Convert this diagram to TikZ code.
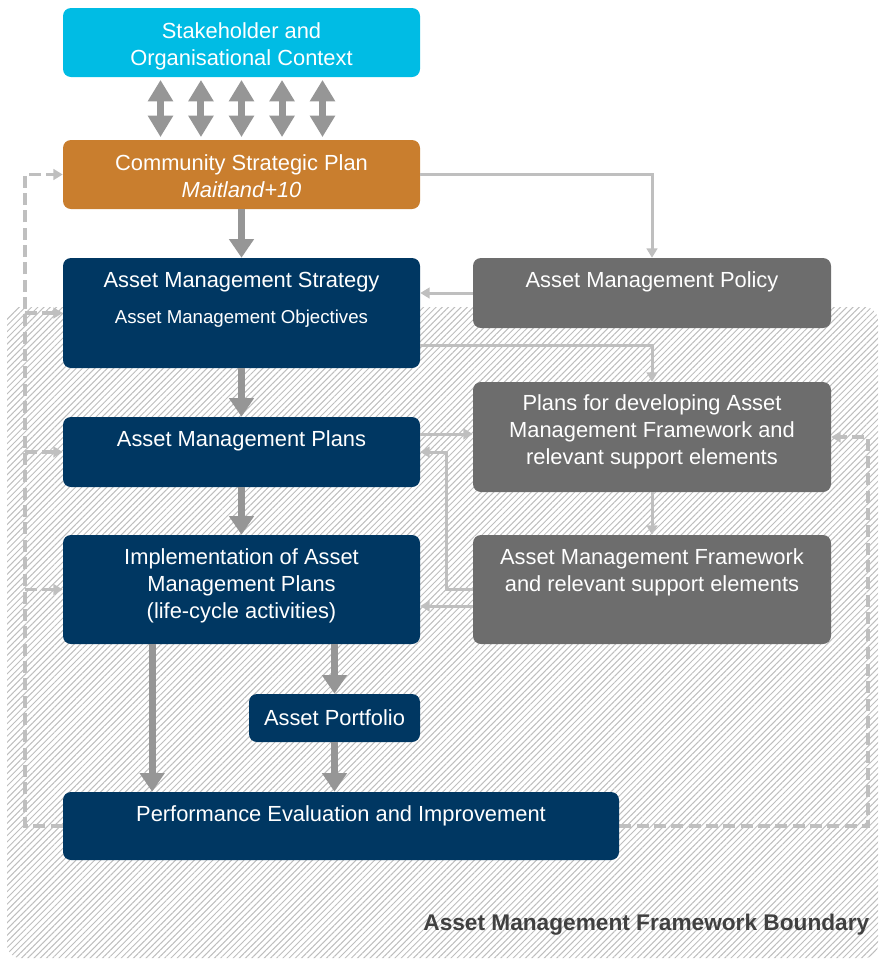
\documentclass[tikz,border=0pt]{standalone}
\usepackage{fontspec}
\setmainfont{Liberation Sans}
\usetikzlibrary{positioning,arrows.meta,patterns.meta,backgrounds}

\definecolor{ctxcyan}{RGB}{0,188,228}
\definecolor{csporange}{RGB}{201,126,46}
\definecolor{amnavy}{RGB}{0,55,98}
\definecolor{fwgray}{RGB}{109,109,109}
\definecolor{flowgray}{RGB}{150,150,150}
\definecolor{linkgray}{RGB}{191,191,191}
\definecolor{hatchgray}{RGB}{190,190,190}
\definecolor{labelgray}{RGB}{64,64,64}

\tikzset{
  box/.style={rectangle, rounded corners=6pt, inner sep=0pt, minimum width=267.75pt},
  boxtext/.style={text=white, align=center, inner sep=0pt,
    font=\fontsize{16.4}{20.25}\selectfont},
  flow/.style={draw=flowgray, line width=5.25pt, -{Triangle[width=18pt,length=14pt]}},
  twoway/.style={draw=flowgray, line width=5.25pt,
    {Triangle[width=18pt,length=16pt]}-{Triangle[width=18pt,length=16pt]}},
  link/.style={draw=linkgray, line width=2.25pt, -{Triangle[width=8pt,length=7pt]}},
  review/.style={link, line width=2.8pt, dash pattern=on 9pt off 4pt},
}

\begin{document}
\begin{tikzpicture}[x=0.75pt, y=-0.75pt]
    \useasboundingbox (0,0) rectangle (880,961);

    % framework boundary
    \begin{pgfonlayer}{background}
        \path[pattern={Lines[angle=45,distance=3.3pt,line width=0.75pt]}, pattern color=hatchgray,
            rounded corners=10pt] (7,307) rectangle (878,958);
    \end{pgfonlayer}
    \node[font=\bfseries\fontsize{17}{20}\selectfont, text=labelgray, anchor=base east]
        (bnd-label) at (874,930) {Asset Management Framework Boundary};

    % boxes
    \node[box, fill=ctxcyan, minimum height=51.75pt] (ctx) at (241.5,42.5) {};
    \node[box, fill=csporange, minimum height=51.75pt] (csp) at (241.5,174.5) {};
    \node[box, fill=amnavy, minimum height=82.5pt] (ams) at (241.5,313) {};
    \node[box, fill=amnavy, minimum height=52.5pt] (amp) at (241.5,452) {};
    \node[box, fill=amnavy, minimum height=81.75pt] (impl) at (241.5,589.5) {};
    \node[box, fill=amnavy, minimum width=128.25pt, minimum height=36pt] (portfolio) at (334.5,718) {};
    \node[box, fill=amnavy, minimum width=417pt, minimum height=51pt] (pe) at (341,826) {};
    \node[box, fill=fwgray, minimum width=268.5pt, minimum height=52.5pt] (policy) at (652,293) {};
    \node[box, fill=fwgray, minimum width=268.5pt, minimum height=82.5pt] (plansdev) at (652,437) {};
    \node[box, fill=fwgray, minimum width=268.5pt, minimum height=81.75pt] (framework) at (652,589.5) {};

    % box texts
    \node[boxtext, yshift=-3pt] (ctx-txt) at (ctx) {Stakeholder and\\Organisational Context};
    \node[boxtext, yshift=-1.5pt] (csp-txt) at (csp) {Community Strategic Plan\\\textit{Maitland+10}};
    \node[boxtext, below=10.5pt of ams.north] (ams-txt)
        {Asset Management Strategy\\[6.75pt]{\fontsize{14}{17}\selectfont Asset Management Objectives}};
    \node[boxtext, below=10.5pt of amp.north] (amp-txt) {Asset Management Plans};
    \node[boxtext, below=10.5pt of impl.north] (impl-txt)
        {Implementation of Asset\\Management Plans\\(life-cycle activities)};
    \node[boxtext] (portfolio-txt) at (portfolio) {Asset Portfolio};
    \node[boxtext, below=10.5pt of pe.north] (pe-txt) {Performance Evaluation and Improvement};
    \node[boxtext, below=10.5pt of policy.north] (policy-txt) {Asset Management Policy};
    \node[boxtext, yshift=3.75pt] (plansdev-txt) at (plansdev)
        {Plans for developing Asset\\Management Framework and\\relevant support elements};
    \node[boxtext, below=10.5pt of framework.north] (framework-txt)
        {Asset Management Framework\\and relevant support elements};

    % context <-> community plan
    \foreach \dx in {-60.75,-30.4,0,30.4,60.75}
        \draw[twoway, shorten <=2pt, shorten >=2pt] ([xshift=\dx pt]ctx.south) -- ([xshift=\dx pt]csp.north);

    % main flow
    \draw[flow] (csp) -- (ams);
    \draw[flow] (ams) -- (amp);
    \draw[flow] (amp) -- (impl);
    \draw[flow] ([xshift=-67pt]impl.south) -- ([xshift=-67pt]impl.south |- pe.north);
    \draw[flow] (impl.south -| portfolio) -- (portfolio);
    \draw[flow] (portfolio) -- (portfolio |- pe.north);

    % policy and framework links
    \draw[link] (csp.east) -| (policy.north);
    \draw[link] (policy.west) -- (policy.west -| ams.east);
    \draw[link] ([yshift=-24pt]ams.east) -| (plansdev.north);
    \draw[link] ([yshift=13.5pt]amp.east) -- ([yshift=13.5pt]amp.east -| plansdev.west);
    \draw[link] (plansdev) -- (framework);
    \draw[link] (framework.west) -- ++(-26,0) |- (amp.east);
    \draw[link] ([yshift=-12.4pt]framework.west) -- ([yshift=-12.4pt]framework.west -| impl.east);

    % review loops
    \coordinate (loop-w) at (25,826);
    \coordinate (loop-e) at (868,826);
    \begin{pgfonlayer}{background}
        \draw[review] (pe.west) -- (loop-w) |- (csp.west);
        \foreach \tgt in {ams,amp,impl}
            \draw[review] (loop-w |- \tgt.west) -- (\tgt.west);
        \draw[review] (pe.east) -- (loop-e) |- (plansdev.east);
    \end{pgfonlayer}
\end{tikzpicture}
\end{document}
